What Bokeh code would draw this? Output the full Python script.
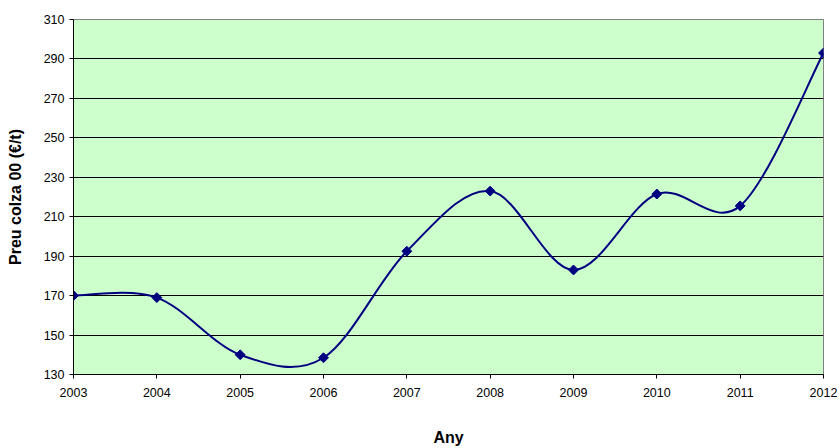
import math
from bokeh.plotting import figure
from bokeh.models import FixedTicker, Range1d, ColumnDataSource
from bokeh.embed import file_html
from bokeh.resources import INLINE

years = [2003, 2004, 2005, 2006, 2007, 2008, 2009, 2010, 2011, 2012]
prices = [170.0, 169.0, 140.0, 138.5, 192.5, 223.0, 183.0, 221.5, 215.5, 293.0]
y_ticks = [130, 150, 170, 190, 210, 230, 250, 270, 290, 310]
x_title = "Any"
y_title = "Preu colza 00 (€/t)"

# Excel-style smoothed line: cubic Bezier segments (Catmull-Rom control points)
n = len(years)
x0, y0, x1, y1, cx0, cy0, cx1, cy1 = ([] for _ in range(8))
for i in range(n - 1):
    pm = i - 1 if i > 0 else i
    pp = i + 2 if i + 2 < n else i + 1
    x0.append(years[i]); y0.append(prices[i])
    x1.append(years[i + 1]); y1.append(prices[i + 1])
    cx0.append(years[i] + (years[i + 1] - years[pm]) / 6.0)
    cy0.append(prices[i] + (prices[i + 1] - prices[pm]) / 6.0)
    cx1.append(years[i + 1] - (years[pp] - years[i]) / 6.0)
    cy1.append(prices[i + 1] - (prices[pp] - prices[i]) / 6.0)
seg = ColumnDataSource(dict(x0=x0, y0=y0, x1=x1, y1=y1, cx0=cx0, cy0=cy0, cx1=cx1, cy1=cy1))

p = figure(width=839, height=448, output_backend="svg", toolbar_location=None,
           x_range=Range1d(2003, 2012), y_range=Range1d(130, 310),
           min_border_left=73, min_border_top=19, min_border_right=16, min_border_bottom=72)
p.border_fill_color = "white"
p.background_fill_color = "#CCFFCC"
p.outline_line_color = "#808080"
p.outline_line_width = 1

p.xgrid.grid_line_color = None
p.ygrid.grid_line_color = "black"
p.ygrid.grid_line_width = 1

p.bezier(x0="x0", y0="y0", x1="x1", y1="y1", cx0="cx0", cy0="cy0", cx1="cx1", cy1="cy1",
         source=seg, line_color="#000080", line_width=2)
p.scatter(years, prices, marker="square", size=7, angle=math.pi / 4,
          fill_color="#000080", line_color="#000080")

p.xaxis.ticker = FixedTicker(ticks=years)
p.yaxis.ticker = FixedTicker(ticks=y_ticks)
for ax in (p.xaxis, p.yaxis):
    ax.axis_line_color = "black"
    ax.major_tick_line_color = "black"
    ax.major_tick_in = 0
    ax.major_tick_out = 4
    ax.minor_tick_line_color = None
    ax.major_label_text_font = "Liberation Sans"
    ax.major_label_text_font_size = "12.5px"
    ax.major_label_text_color = "black"
    ax.axis_label_text_font = "Liberation Sans"
    ax.axis_label_text_font_size = "16px"
    ax.axis_label_text_font_style = "bold"
    ax.axis_label_text_color = "black"

p.xaxis.axis_label = x_title
p.yaxis.axis_label = y_title
p.xaxis.major_label_standoff = 9
p.yaxis.major_label_standoff = 5
p.xaxis.axis_label_standoff = 29
p.yaxis.axis_label_standoff = 17

open("out.html", "w").write(file_html(p, INLINE))
